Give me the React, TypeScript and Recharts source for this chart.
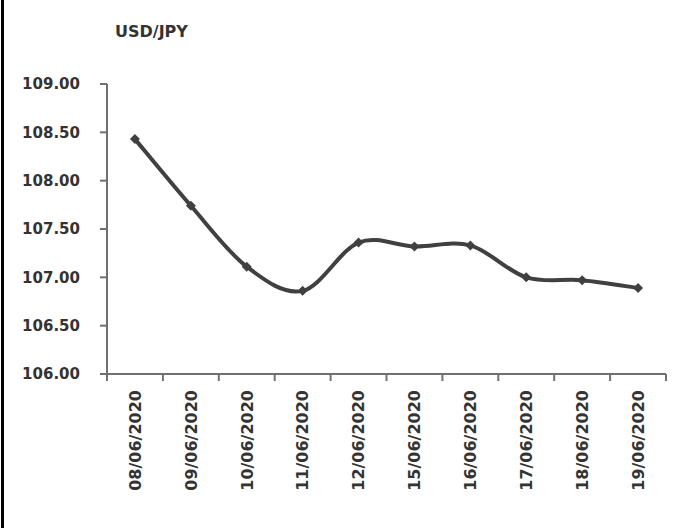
import { LineChart, Line, XAxis, YAxis } from 'recharts';

const dates = [
  '08/06/2020', '09/06/2020', '10/06/2020', '11/06/2020', '12/06/2020',
  '15/06/2020', '16/06/2020', '17/06/2020', '18/06/2020', '19/06/2020',
];
const usdJpy = [108.43, 107.74, 107.11, 106.86, 107.36, 107.32, 107.33, 107.0, 106.97, 106.89];
const rateTicks = [106, 106.5, 107, 107.5, 108, 108.5, 109];

const data = dates.map((date, i) => ({ i, date, rate: usdJpy[i] }));
// ticks on band edges (tick marks) and band centres (labels)
const xTicks = dates.flatMap((_, i) => [i - 0.5, i]).concat(dates.length - 0.5);

const FONT = '"DejaVu Sans", sans-serif';
const TEXT = '#333333';
const AXIS = '#707070';
const LINE = '#404040';

// Excel-style smoothed line: cubic bezier through the points (Catmull-Rom, 1/6)
function smoothCurve(context: any) {
  let pts: [number, number][] = [];
  return {
    areaStart() {},
    areaEnd() {},
    lineStart() {
      pts = [];
    },
    point(x: number, y: number) {
      pts.push([+x, +y]);
    },
    lineEnd() {
      if (!pts.length) return;
      context.moveTo(pts[0][0], pts[0][1]);
      for (let k = 0; k < pts.length - 1; k++) {
        const p0 = pts[Math.max(k - 1, 0)];
        const p1 = pts[k];
        const p2 = pts[k + 1];
        const p3 = pts[Math.min(k + 2, pts.length - 1)];
        context.bezierCurveTo(
          p1[0] + (p2[0] - p0[0]) / 6, p1[1] + (p2[1] - p0[1]) / 6,
          p2[0] - (p3[0] - p1[0]) / 6, p2[1] - (p3[1] - p1[1]) / 6,
          p2[0], p2[1],
        );
      }
    },
  };
}

function DateTick({ x, y, payload }: any) {
  const v = payload.value as number;
  if (!Number.isInteger(v)) {
    return <line x1={x} x2={x} y1={y} y2={y + 7} stroke={AXIS} strokeWidth={2} />;
  }
  return (
    <text
      x={x}
      y={y + 16}
      dy="0.36em"
      transform={`rotate(-90, ${x}, ${y + 16})`}
      textAnchor="end"
      fontFamily={FONT}
      fontWeight="bold"
      fontSize={16}
      fill={TEXT}
    >
      {dates[v]}
    </text>
  );
}

function Diamond({ cx, cy }: any) {
  const s = 5;
  return <path d={`M${cx},${cy - s}L${cx + s},${cy}L${cx},${cy + s}L${cx - s},${cy}Z`} fill={LINE} />;
}

export default function App() {
  return (
    <div
      style={{
        position: 'absolute',
        left: 0,
        top: 0,
        width: 675,
        height: 528,
        background: '#fff',
      }}
    >
      <div style={{ position: 'absolute', left: 1, top: 0, width: 3, height: 528, background: '#000' }} />
      <div
        style={{
          position: 'absolute',
          left: 115,
          top: 22,
          fontFamily: FONT,
          fontWeight: 'bold',
          fontSize: 16,
          color: TEXT,
        }}
      >
        USD/JPY
      </div>
      <LineChart width={675} height={528} data={data} margin={{ top: 84, right: 9, left: 0, bottom: 0 }}>
        <XAxis
          dataKey="i"
          type="number"
          domain={[-0.5, dates.length - 0.5]}
          ticks={xTicks}
          interval={0}
          height={154}
          tickSize={0}
          tickMargin={0}
          tickLine={false}
          axisLine={{ stroke: AXIS, strokeWidth: 2 }}
          tick={<DateTick />}
        />
        <YAxis
          domain={[106, 109]}
          ticks={rateTicks}
          interval={0}
          width={107}
          tickSize={7}
          tickMargin={20}
          tickFormatter={(v: number) => v.toFixed(2)}
          axisLine={{ stroke: AXIS, strokeWidth: 2 }}
          tickLine={{ stroke: AXIS, strokeWidth: 2 }}
          tick={{ fontFamily: FONT, fontWeight: 'bold', fontSize: 15, fill: TEXT }}
        />
        <Line
          dataKey="rate"
          type={smoothCurve as any}
          stroke={LINE}
          strokeWidth={4}
          dot={<Diamond />}
          activeDot={false}
          isAnimationActive={false}
        />
      </LineChart>
    </div>
  );
}
